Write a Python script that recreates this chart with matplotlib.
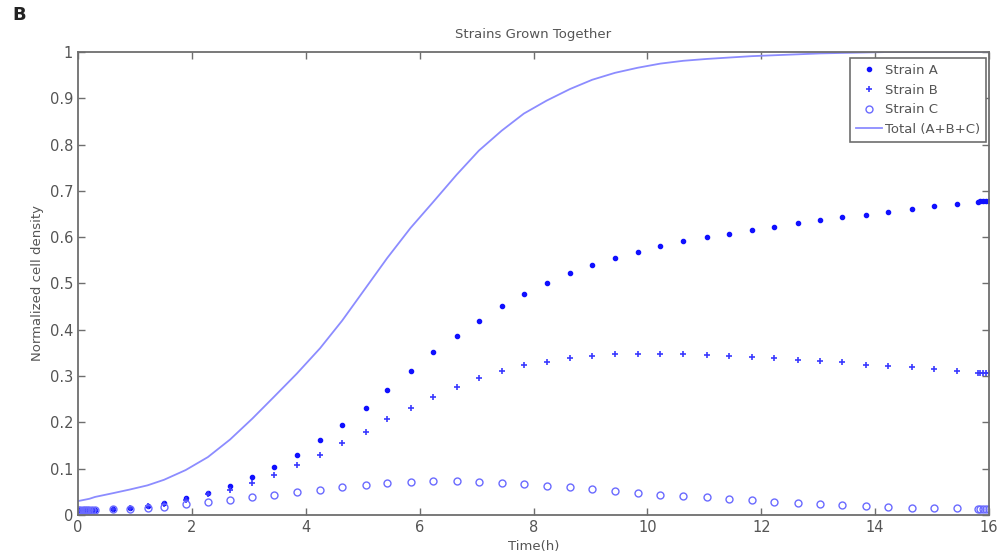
import numpy as np
import matplotlib.pyplot as plt

# sampled time points (h)
time_h = [0, 0.04, 0.08, 0.12, 0.16, 0.2, 0.25, 0.3, 0.61, 0.91, 1.22, 1.51, 1.89,
          2.28, 2.67, 3.06, 3.44, 3.84, 4.25, 4.64, 5.05, 5.43, 5.84, 6.23, 6.65,
          7.04, 7.44, 7.83, 8.23, 8.64, 9.03, 9.43, 9.83, 10.23, 10.63, 11.04,
          11.43, 11.83, 12.23, 12.64, 13.04, 13.42, 13.84, 14.23, 14.65, 15.04,
          15.43, 15.8, 15.85, 15.9, 15.95, 16]

strain_a = [0.010, 0.010, 0.010, 0.010, 0.011, 0.011, 0.011, 0.011, 0.013, 0.016,
            0.020, 0.026, 0.036, 0.048, 0.063, 0.081, 0.103, 0.129, 0.161, 0.194,
            0.232, 0.271, 0.312, 0.351, 0.387, 0.420, 0.452, 0.478, 0.502, 0.522,
            0.539, 0.555, 0.569, 0.581, 0.591, 0.600, 0.607, 0.615, 0.622, 0.630,
            0.637, 0.643, 0.649, 0.655, 0.661, 0.667, 0.672, 0.677, 0.678, 0.678,
            0.679, 0.679]

strain_b = [0.010, 0.010, 0.010, 0.010, 0.010, 0.011, 0.011, 0.011, 0.013, 0.015,
            0.019, 0.024, 0.033, 0.045, 0.055, 0.070, 0.086, 0.107, 0.129, 0.155,
            0.180, 0.208, 0.232, 0.255, 0.277, 0.295, 0.312, 0.323, 0.331, 0.339,
            0.343, 0.347, 0.347, 0.347, 0.347, 0.346, 0.344, 0.341, 0.339, 0.335,
            0.333, 0.330, 0.325, 0.321, 0.319, 0.315, 0.312, 0.307, 0.307, 0.306,
            0.306, 0.306]

strain_c = [0.010, 0.010, 0.010, 0.010, 0.010, 0.010, 0.010, 0.011, 0.012, 0.013,
            0.014, 0.018, 0.023, 0.027, 0.032, 0.038, 0.043, 0.049, 0.055, 0.061,
            0.065, 0.070, 0.072, 0.074, 0.074, 0.072, 0.070, 0.067, 0.063, 0.061,
            0.056, 0.052, 0.048, 0.044, 0.040, 0.038, 0.035, 0.032, 0.028, 0.026,
            0.024, 0.022, 0.019, 0.017, 0.015, 0.014, 0.014, 0.013, 0.013, 0.012,
            0.012, 0.012]

total = [0.030, 0.031, 0.032, 0.033, 0.034, 0.035, 0.037, 0.039, 0.047, 0.055,
         0.064, 0.076, 0.097, 0.125, 0.163, 0.208, 0.255, 0.305, 0.360, 0.420,
         0.490, 0.555, 0.620, 0.675, 0.735, 0.787, 0.830, 0.867, 0.895, 0.920,
         0.940, 0.955, 0.966, 0.975, 0.981, 0.985, 0.988, 0.991, 0.993, 0.995,
         0.997, 0.998, 0.999, 1.000, 1.000, 1.000, 1.000, 1.000, 1.000, 1.000,
         1.000, 1.000]

axis_grey = "#6e6e6e"
text_grey = "#555555"

plt.rcParams["font.family"] = ["DejaVu Sans"]

fig = plt.figure(figsize=(9.98, 5.58), dpi=100)
ax = fig.add_axes([0.0782, 0.0771, 0.9128, 0.8297])

ax.plot(time_h, strain_a, ".", color="#1010ff", markersize=6, label="Strain A")
ax.plot(time_h, strain_b, "+", color="#3a3aff", markersize=5, markeredgewidth=1.2, label="Strain B")
ax.plot(time_h, strain_c, "o", color="#6a6aff", markersize=5, markerfacecolor="none",
        markeredgewidth=1.0, label="Strain C")
ax.plot(time_h, total, "-", color="#8c8cff", linewidth=1.3, label="Total (A+B+C)")

ax.set_xlim(0, 16)
ax.set_ylim(0, 1)
ax.set_xticks(np.arange(0, 17, 2))
ax.set_yticks(np.arange(0, 1.01, 0.1))
ax.set_yticklabels(["0", "0.1", "0.2", "0.3", "0.4", "0.5", "0.6", "0.7", "0.8", "0.9", "1"])

ax.tick_params(direction="in", length=5, width=1, colors=axis_grey, labelcolor=text_grey,
               labelsize=10.5, top=True, right=True)
for spine in ax.spines.values():
    spine.set_color(axis_grey)
    spine.set_linewidth(1.3)

ax.set_title("Strains Grown Together", fontsize=9.5, color=text_grey, pad=10)
ax.set_xlabel("Time(h)", fontsize=9.5, color=text_grey, labelpad=4)
ax.set_ylabel("Normalized cell density", fontsize=9.5, color=text_grey, labelpad=4)

leg = ax.legend(loc="upper right", bbox_to_anchor=(0.9967, 0.987), fontsize=9.5,
                fancybox=False, framealpha=1, borderpad=0.45, labelspacing=0.5,
                handlelength=2.0, handletextpad=0.2, borderaxespad=0)
leg.get_frame().set_edgecolor(axis_grey)
leg.get_frame().set_linewidth(1.2)
for t in leg.get_texts():
    t.set_color(text_grey)

fig.text(0.012, 0.965, "B", fontsize=13, fontweight="bold", color="#222222")

fig.savefig("out.png", dpi=100, facecolor="white")
